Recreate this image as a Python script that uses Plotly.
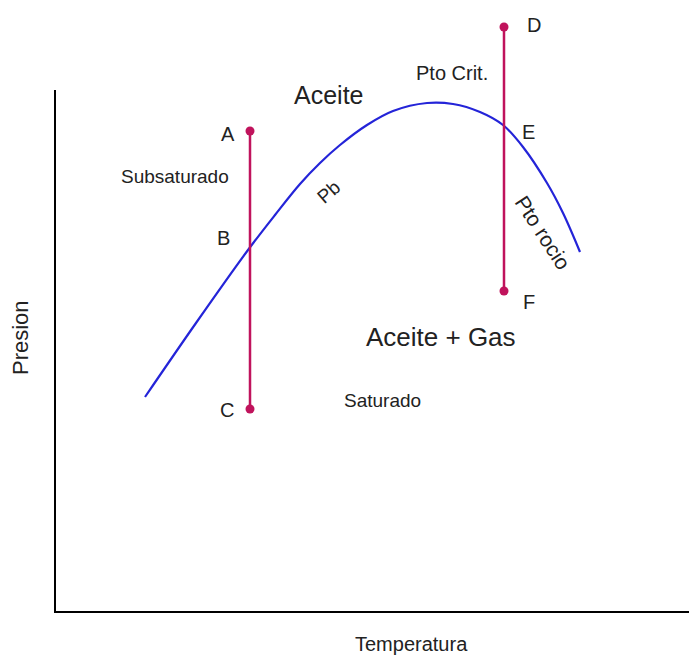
''' Diagrama de fases P-T: curva de burbuja / rocio con trayectorias A-C y D-F '''

import plotly.graph_objects as go

# Envolvente (Pb -> Pto Crit. -> Pto rocio), unidades arbitrarias
env_temp = [90, 141, 193, 220, 245, 265, 285, 312, 338, 372, 398, 425, 448, 468, 492, 508, 525]
env_pres = [215, 289, 362, 397, 428, 449, 467, 487, 501, 509, 508, 500, 487, 465, 429, 399, 360]

# Trayectorias isotermicas
path1_temp = [195, 195]
path1_pres = [481, 203]   # A -> C
path2_temp = [449, 449]
path2_pres = [585, 321]   # D -> F

# Etiquetas de puntos
point_names = ['A', 'B', 'C', 'D', 'E', 'F']
point_temp = [173, 168, 172, 479, 473, 474]
point_pres = [478, 374, 202, 587, 480, 310]

# Ejes (marco en L)
axis_temp = [0, 0, 642]
axis_pres = [522, 0, 0]

PATH_COLOR = '#c0135c'
TEXT_COLOR = '#222222'
FONT = 'Liberation Sans, Arial, sans-serif'

fig = go.Figure()

fig.add_trace(go.Scatter(x=axis_temp, y=axis_pres, mode='lines',
                         line=dict(color='black', width=2), hoverinfo='skip'))

fig.add_trace(go.Scatter(x=env_temp, y=env_pres, mode='lines',
                         line=dict(color='#2424d8', width=2.2, shape='spline', smoothing=1.0)))

for t, p in [(path1_temp, path1_pres), (path2_temp, path2_pres)]:
    fig.add_trace(go.Scatter(x=t, y=p, mode='lines+markers',
                             line=dict(color=PATH_COLOR, width=2.5),
                             marker=dict(color=PATH_COLOR, size=9)))

# Letras de los puntos
for name, t, p in zip(point_names, point_temp, point_pres):
    fig.add_annotation(x=t, y=p, text=name, showarrow=False,
                       font=dict(size=20, color=TEXT_COLOR, family=FONT))

# Textos de regiones: texto, T, P, tamano, angulo
labels = [
    ('Aceite', 273, 517, 25, 0),
    ('Pto Crit.', 397, 539, 20, 0),
    ('Subsaturado', 120, 436, 19, 0),
    ('Pb', 273, 420, 19, -41),
    ('Pto rocio', 488, 380, 21, 57),
    ('Aceite + Gas', 386, 275, 26, 0),
    ('Saturado', 327, 212, 19, 0),
]
for txt, t, p, size, ang in labels:
    fig.add_annotation(x=t, y=p, text=txt, showarrow=False, textangle=ang,
                       font=dict(size=size, color=TEXT_COLOR, family=FONT))

# Titulos de ejes
fig.add_annotation(x=-35, y=274, text='Presion', showarrow=False, textangle=-90,
                   font=dict(size=22, color=TEXT_COLOR, family=FONT))
fig.add_annotation(x=356, y=-32, text='Temperatura', showarrow=False,
                   font=dict(size=20, color=TEXT_COLOR, family=FONT))

# La pagina deja 8px de margen en el body: la figura se ajusta a ese desplazamiento
fig.update_layout(
    width=689, height=648,
    margin=dict(l=0, r=0, t=0, b=0),
    plot_bgcolor='white', paper_bgcolor='white',
    showlegend=False,
    xaxis=dict(range=[-47, 642], visible=False, fixedrange=True),
    yaxis=dict(range=[-44, 604], visible=False, fixedrange=True),
)

fig.write_html("out.html")
